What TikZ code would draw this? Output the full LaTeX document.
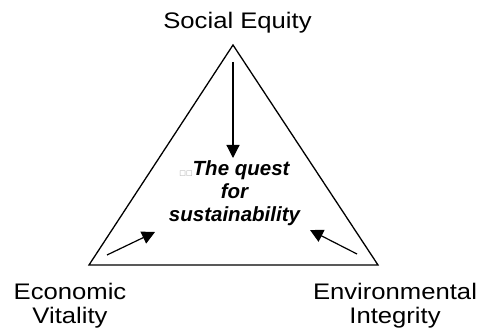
\documentclass[tikz,border=0pt]{standalone}
\usepackage{fontspec}
\setmainfont{Liberation Sans}
\newfontfamily\boxfont{DejaVu Sans}
\usetikzlibrary{arrows.meta}
\begin{document}
\begin{tikzpicture}[x=1pt,y=-1pt,
  edge/.style={line width=1.3pt, line join=miter},
  pointer/.style={line width=1.2pt,-{Triangle[length=13pt,width=13pt]}},
  lbl/.style={font=\fontsize{22.5}{23}\selectfont, inner sep=0pt, anchor=base},
  quest/.style={font=\fontsize{20.5}{23}\selectfont\bfseries\itshape, inner sep=0pt, anchor=base},
  ]
\useasboundingbox (0,0) rectangle (482,336);
\coordinate (top) at (233,45);
\coordinate (bl) at (89,265);
\coordinate (br) at (378,265);
\draw[edge] (top) -- (bl) -- (br) -- cycle;

\node[lbl] (soc) at (237.5,29) {\scalebox{1.14}[1]{Social Equity}};
\node[lbl] (eco) at (70,300) {\scalebox{1.14}[1]{\begin{tabular}[t]{@{}c@{}}Economic\\Vitality\end{tabular}}};
\node[lbl] (env) at (395,300) {\scalebox{1.14}[1]{\begin{tabular}[t]{@{}c@{}}Environmental\\Integrity\end{tabular}}};
\node[quest] (q) at (234.5,176) {\begin{tabular}[t]{@{}c@{}}{\boxfont\mdseries\upshape\fontsize{7}{7}\selectfont\color{gray!70}□□}The quest\\for\\sustainability\end{tabular}};

\coordinate (s1) at (233,62);
\coordinate (t1) at (233,158);
\coordinate (s2) at (107,255);
\coordinate (t2) at (155,232);
\coordinate (s3) at (357,254);
\coordinate (t3) at (310,230);
\draw[pointer] (s1) -- (t1);
\draw[pointer] (s2) -- (t2);
\draw[pointer] (s3) -- (t3);
\end{tikzpicture}
\end{document}
